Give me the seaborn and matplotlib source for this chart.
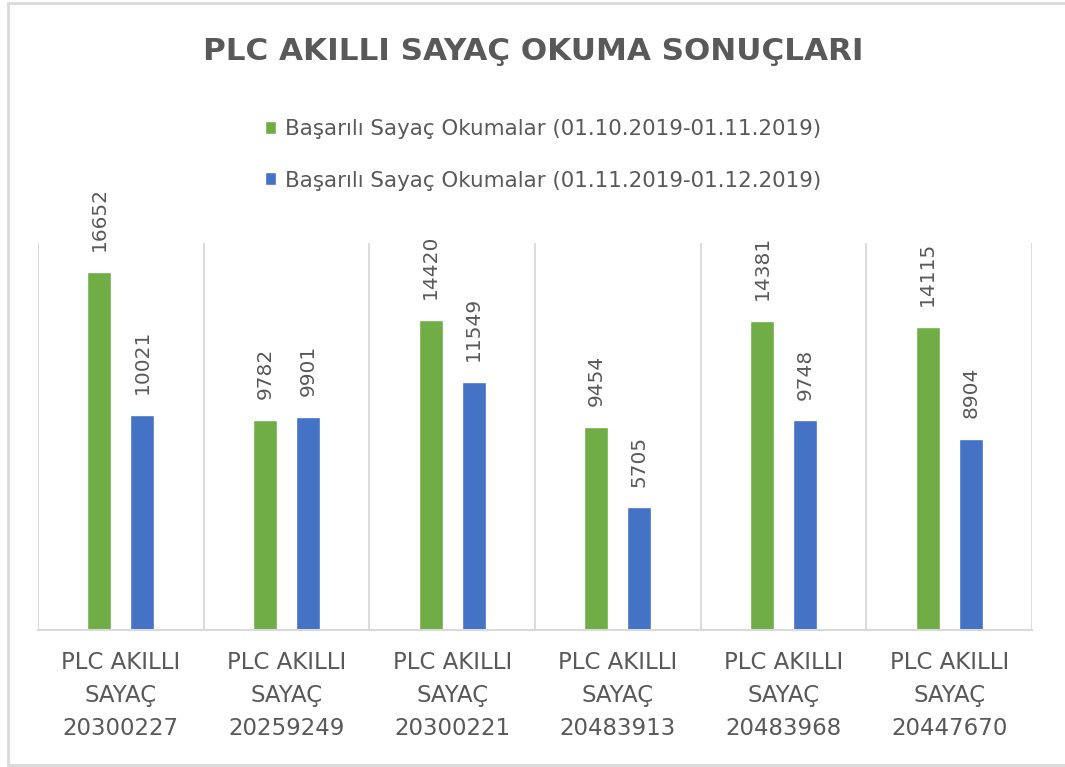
import matplotlib
matplotlib.use("Agg")
import matplotlib.pyplot as plt
from matplotlib.lines import Line2D
import seaborn as sns
import pandas as pd

meters = ["20300227", "20259249", "20300221", "20483913", "20483968", "20447670"]
period_labels = [
    "Başarılı Sayaç Okumalar (01.10.2019-01.11.2019)",
    "Başarılı Sayaç Okumalar (01.11.2019-01.12.2019)",
]
reads_oct_nov = [16652, 9782, 14420, 9454, 14381, 14115]
reads_nov_dec = [10021, 9901, 11549, 5705, 9748, 8904]

title_text = "PLC AKILLI SAYAÇ OKUMA SONUÇLARI"
category_labels = [f"PLC AKILLI\nSAYAÇ\n{m}" for m in meters]

GREEN = "#70AD47"
BLUE = "#4472C4"
TEXT = "#595959"
GRID = "#D9D9D9"

df = pd.DataFrame({
    "meter": category_labels * 2,
    "period": [period_labels[0]] * len(meters) + [period_labels[1]] * len(meters),
    "reads": reads_oct_nov + reads_nov_dec,
})

sns.set_theme(style="white")
plt.rcParams["font.family"] = ["DejaVu Sans"]

W, H = 1065, 767
fig = plt.figure(figsize=(W / 100, H / 100), dpi=100)
ax = fig.add_axes([38 / W, 1 - 630 / H, (1032 - 38) / W, (630 - 243) / H])

sns.barplot(
    data=df, x="meter", y="reads", hue="period",
    palette=[GREEN, BLUE], width=0.52, gap=0.44,
    ax=ax, legend=True, saturation=1,
)

ax.set_ylim(0, 18000)
ax.set_xlim(-0.5, len(meters) - 0.5)

# category separators
ax.vlines([i - 0.5 for i in range(len(meters) + 1)], 0, 18000,
          colors=GRID, linewidth=1.3, zorder=0)

for c in ax.containers:
    ax.bar_label(c, rotation=90, padding=15, color=TEXT, fontsize=14.5)

for s in ["left", "right", "top"]:
    ax.spines[s].set_visible(False)
ax.spines["bottom"].set_color(GRID)
ax.spines["bottom"].set_linewidth(1.5)
ax.set_yticks([])
ax.set_xlabel("")
ax.set_ylabel("")
ax.tick_params(axis="x", length=0, pad=15, colors=TEXT, labelsize=16.5)
for t in ax.get_xticklabels():
    t.set_linespacing(1.56)
    t.set_color(TEXT)

handles, labels = ax.get_legend_handles_labels()
ax.legend(handles, labels, loc="center", bbox_to_anchor=(543 / W, 1 - 155 / H),
          bbox_transform=fig.transFigure, frameon=False, ncol=1,
          handlelength=0.55, handleheight=0.55, handletextpad=0.4,
          labelspacing=1.45, labelcolor=TEXT,
          prop={"family": "DejaVu Sans", "size": 15.4})

fig.text(533 / W, 1 - 52 / H, title_text, ha="center", va="center",
         fontsize=22.3, fontweight="bold", color=TEXT)

# chart frame: left, top and bottom edges
frame = dict(color=GRID, linewidth=2, transform=fig.transFigure, zorder=0)
fig.add_artist(Line2D([8 / W, 8 / W], [1 - 3 / H, 1 - 765 / H], **frame))
fig.add_artist(Line2D([8 / W, 1], [1 - 3 / H, 1 - 3 / H], **frame))
fig.add_artist(Line2D([8 / W, 1], [1 - 765 / H, 1 - 765 / H], **frame))

fig.savefig("out.png", dpi=100, facecolor="white")
